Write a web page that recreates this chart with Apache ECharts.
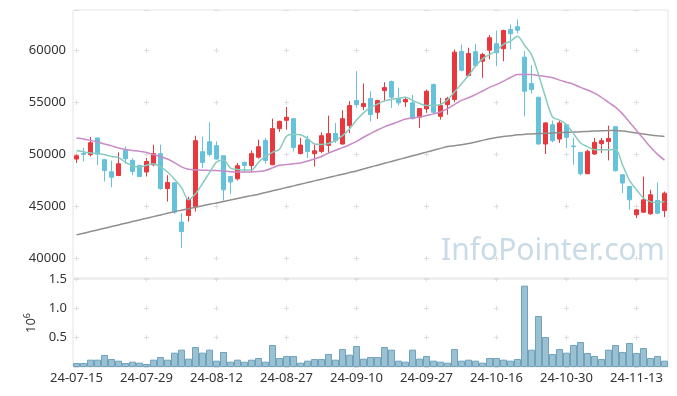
<!DOCTYPE html>
<html><head><meta charset="utf-8">
<script src="https://cdn.jsdelivr.net/npm/echarts@6/dist/echarts.min.js"></script>
<style>html,body{margin:0;padding:0;background:#fff}#c{width:677px;height:396px}</style>
</head><body><div id="c"></div>
<script>
const dates = ['24-07-15','24-07-16','24-07-17','24-07-18','24-07-19','24-07-22','24-07-23','24-07-24','24-07-25','24-07-26',
'24-07-29','24-07-30','24-07-31','24-08-01','24-08-02','24-08-05','24-08-06','24-08-07','24-08-08','24-08-09',
'24-08-12','24-08-13','24-08-14','24-08-16','24-08-19','24-08-20','24-08-21','24-08-22','24-08-23','24-08-26',
'24-08-27','24-08-28','24-08-29','24-08-30','24-09-02','24-09-03','24-09-04','24-09-05','24-09-06','24-09-09',
'24-09-10','24-09-11','24-09-12','24-09-13','24-09-19','24-09-20','24-09-23','24-09-24','24-09-25','24-09-26',
'24-09-27','24-09-30','24-10-02','24-10-04','24-10-07','24-10-08','24-10-10','24-10-11','24-10-14','24-10-15',
'24-10-16','24-10-17','24-10-18','24-10-21','24-10-22','24-10-23','24-10-24','24-10-25','24-10-28','24-10-29',
'24-10-30','24-10-31','24-11-01','24-11-04','24-11-05','24-11-06','24-11-07','24-11-08','24-11-11','24-11-12',
'24-11-13','24-11-14','24-11-15','24-11-18','24-11-19'];

// [open, close, low, high]
const ohlc = [
[49550,49870,49170,49970],[50080,50000,49320,50620],[49970,51130,49800,51680],[51580,50020,48960,51600],[49490,48450,47390,49580],
[48330,47800,46830,49390],[47970,49100,47910,50210],[50380,49580,49100,50770],[49420,48360,47990,49650],[48940,47870,47820,49000],
[48300,49320,47870,49650],[49000,50070,48860,50930],[50070,46710,46590,50930],[46710,47300,45460,48000],[47270,44440,44280,47330],
[43480,42570,40970,44340],[44110,45690,43530,45920],[44950,51320,44500,51800],[50260,49230,48670,51710],[51220,50000,49800,53090],
[50840,49550,49490,51250],[49870,46590,45560,49900],[47870,47340,46180,47900],[47650,48910,47490,49170],[49230,48940,48260,49320],
[48920,50070,48300,50380],[49730,50740,49580,51420],[51350,49420,49100,51580],[49000,52480,48960,53440],[52480,53180,52160,53250],
[53280,53570,52380,54570],[53440,50670,50290,53500],[50070,50900,50000,51580],[51420,50290,49650,51800],[50070,50350,48840,50930],
[50290,51800,50130,52120],[50870,52000,50130,53730],[52000,51320,51100,53030],[51000,53440,50930,54260],[52770,54700,52060,55130],
[55180,54790,54480,58010],[54600,54890,54260,56820],[55370,53830,53180,56080],[54050,55180,53410,55250],[56140,56430,55110,56950],
[57010,55500,54480,57110],[55370,54960,54700,56410],[55050,55280,54570,55540],[54960,53440,53350,55730],[53570,54410,52550,54440],
[54380,56080,53990,56240],[56720,54050,53950,56820],[53660,54700,53350,55440],[54790,55370,53830,55540],[55280,59840,55020,60100],
[59910,58100,58000,60580],[57590,59720,57500,60270],[59880,58560,58400,60650],[58970,59620,57370,59780],[60030,61230,59140,61480],
[60650,59780,58490,61930],[60170,61930,58970,62000],[62030,61620,60100,62510],[62290,61960,61650,63000],[59360,56080,53660,59940],
[56820,56240,55860,58590],[55500,51000,50950,55550],[51000,53030,50040,53100],[52860,51320,51160,53250],[51480,53030,51100,53250],
[52860,51640,50620,52900],[50810,50750,49000,51580],[50190,48140,47970,50250],[48140,50290,48100,50450],[50040,51160,49950,51580],
[51030,51320,50130,51580],[51250,51540,49420,52770],[52670,48430,48350,52700],[48040,47240,46270,48080],[46910,45630,44660,46950],
[44180,44660,43860,44700],[44440,45630,44350,47870],[44280,46110,44180,46590],[45560,44340,44250,47300],[44590,46270,43960,46430]];

const ma5 = [50380,50250,50130,50100,49970,49800,49700,49250,48900,48780,
48950,49100,48800,48300,47600,46800,45630,46200,47200,48250,
49250,49450,48680,48550,48500,48500,49250,49800,50200,50500,
51750,51950,51900,51550,51000,50950,51050,51350,51800,52450,
53300,54000,54500,54850,55150,55300,55400,55500,55200,54900,
54700,54700,54800,55250,56000,56800,57600,58500,59200,59600,
60000,60600,60900,61380,60500,59600,57700,55500,53600,53300,
52860,52000,51100,50750,50450,50450,50450,50500,49000,47500,
46600,45800,45450,45350,45460];

const ma20 = [51580,51480,51350,51180,51000,50820,50620,50480,50380,50290,
50180,49980,49780,49550,49200,48800,48560,48510,48480,48460,
48450,48400,48330,48300,48300,48300,48360,48450,48700,48950,
49020,49100,49170,49360,49550,49800,50120,50400,50650,50930,
51250,51650,52000,52350,52650,52900,53150,53400,53500,53600,
53750,53900,54080,54400,54800,55200,55450,55750,56100,56450,
56720,57050,57400,57690,57700,57690,57600,57500,57380,57150,
56950,56750,56450,56200,55900,55500,55000,54550,53900,53100,
52300,51500,50700,50000,49450];

const ma120 = [42250,42410,42570,42730,42890,43050,43210,43370,43530,43690,
43850,44010,44170,44330,44490,44630,44770,44910,45050,45190,
45330,45470,45610,45750,45890,46030,46170,46330,46490,46650,
46810,46970,47130,47290,47450,47610,47770,47930,48090,48250,
48410,48600,48780,48960,49140,49320,49500,49680,49860,50040,
50220,50400,50580,50750,50830,50920,51050,51200,51350,51500,
51620,51720,51800,51880,51930,51970,52000,52030,52060,52090,
52120,52150,52180,52210,52240,52270,52300,52290,52240,52160,
52060,51960,51870,51790,51720];

const volume = [68000,68000,125000,125000,205000,136000,108000,68000,91000,74000,
51000,125000,170000,125000,244000,295000,142000,341000,244000,295000,
108000,256000,91000,125000,91000,125000,153000,91000,375000,153000,
188000,188000,74000,108000,136000,136000,222000,125000,307000,210000,
358000,142000,170000,170000,341000,295000,108000,91000,295000,142000,
188000,108000,91000,74000,307000,108000,125000,108000,74000,153000,
153000,125000,108000,136000,1386000,295000,869000,511000,222000,307000,
244000,375000,426000,239000,188000,136000,295000,375000,256000,409000,
239000,324000,153000,188000,108000];

const FONT = 'Noto Sans';
const gridLine = '#dedede';
const mainMin = 38100, mainMax = 63900, mainTop = 10, mainH = 268;
const volTop = 279, volH = 88, volMax = 1500000;
const perX = 70; // 10 categories * 7px
const mainPeriod = 5000 / (mainMax - mainMin) * mainH;
const mainFirst = (mainMax - 60000) / (mainMax - mainMin) * mainH;
const volPeriod = 500000 / volMax * volH;

const chart = echarts.init(document.getElementById('c'), null, {renderer: 'canvas'});
chart.setOption({
  animation: false,
  backgroundColor: '#fff',
  textStyle: {fontFamily: FONT},
  grid: [
    {left: 73, right: 9, top: mainTop, height: mainH, show: true, borderColor: '#e4e4e4', borderWidth: 1},
    {left: 73, right: 9, top: volTop, height: volH, show: true, borderColor: '#e4e4e4', borderWidth: 1}
  ],
  graphic: [{
    type: 'text', left: 441, top: 236, z: 0, silent: true,
    style: {text: 'InfoPointer.com', fontSize: 30, fontFamily: FONT, fill: '#c9dbe6'}
  }],
  xAxis: [
    {type: 'category', gridIndex: 0, data: dates, boundaryGap: true,
     axisLine: {show: false}, axisTick: {show: false}, axisLabel: {show: false},
     splitLine: {show: true, interval: 9, alignWithLabel: true,
       lineStyle: {color: gridLine, width: 1, type: [5, mainPeriod - 5], dashOffset: mainPeriod - (mainFirst - 2.5)}}},
    {type: 'category', gridIndex: 1, data: dates, boundaryGap: true,
     axisLine: {show: false}, axisTick: {show: false},
     axisLabel: {interval: 9, fontSize: 13, color: '#333', margin: 5, fontFamily: FONT},
     splitLine: {show: true, interval: 9, alignWithLabel: true,
       lineStyle: {color: gridLine, width: 1, type: [5, volPeriod - 5], dashOffset: 2.5}}}
  ],
  yAxis: [
    {type: 'value', gridIndex: 0, min: mainMin, max: mainMax, splitNumber: 5,
     axisLine: {show: false}, axisTick: {show: false},
     axisLabel: {showMinLabel: false, showMaxLabel: false, fontSize: 13, color: '#333', margin: 7, fontFamily: FONT,
       formatter: v => String(Math.round(v))},
     splitLine: {show: true, lineStyle: {color: gridLine, width: 1, type: [5, perX - 5], dashOffset: perX - 1}}},
    {type: 'value', gridIndex: 1, min: 0, max: volMax, interval: 500000,
     axisLine: {show: false}, axisTick: {show: false},
     axisLabel: {showMinLabel: false, fontSize: 13, color: '#333', margin: 6, fontFamily: FONT,
       formatter: v => (v / 1e6).toFixed(1)},
     name: '{b|10}{s|6}', nameLocation: 'middle', nameRotate: 90, nameGap: 33,
     nameTextStyle: {color: '#333', rich: {
       b: {fontSize: 13, lineHeight: 16, fontFamily: FONT, color: '#333'},
       s: {fontSize: 9, lineHeight: 10, verticalAlign: 'top', fontFamily: FONT, color: '#333'}}},
     splitLine: {show: true, lineStyle: {color: gridLine, width: 1, type: [5, perX - 5], dashOffset: perX - 1}}}
  ],
  series: [
    {type: 'candlestick', xAxisIndex: 0, yAxisIndex: 0, data: ohlc, barWidth: '66%', z: 3,
     itemStyle: {color: '#e9383d', color0: '#66c1da', borderColor: '#e9383d', borderColor0: '#66c1da', borderWidth: 1}},
    {type: 'line', xAxisIndex: 0, yAxisIndex: 0, data: ma120, showSymbol: false, smooth: 0.3, z: 4,
     lineStyle: {color: '#8f8f8f', width: 1.5}},
    {type: 'line', xAxisIndex: 0, yAxisIndex: 0, data: ma20, showSymbol: false, smooth: 0.3, z: 4,
     lineStyle: {color: '#c98ac6', width: 1.5}},
    {type: 'line', xAxisIndex: 0, yAxisIndex: 0, data: ma5, showSymbol: false, smooth: 0.3, z: 4,
     lineStyle: {color: '#88cbbe', width: 1.5}},
    {type: 'bar', xAxisIndex: 1, yAxisIndex: 1, data: volume, barCategoryGap: '0%',
     itemStyle: {color: '#9ac0d2', borderColor: '#6fa3bd', borderWidth: 1}}
  ]
});
</script></body></html>
